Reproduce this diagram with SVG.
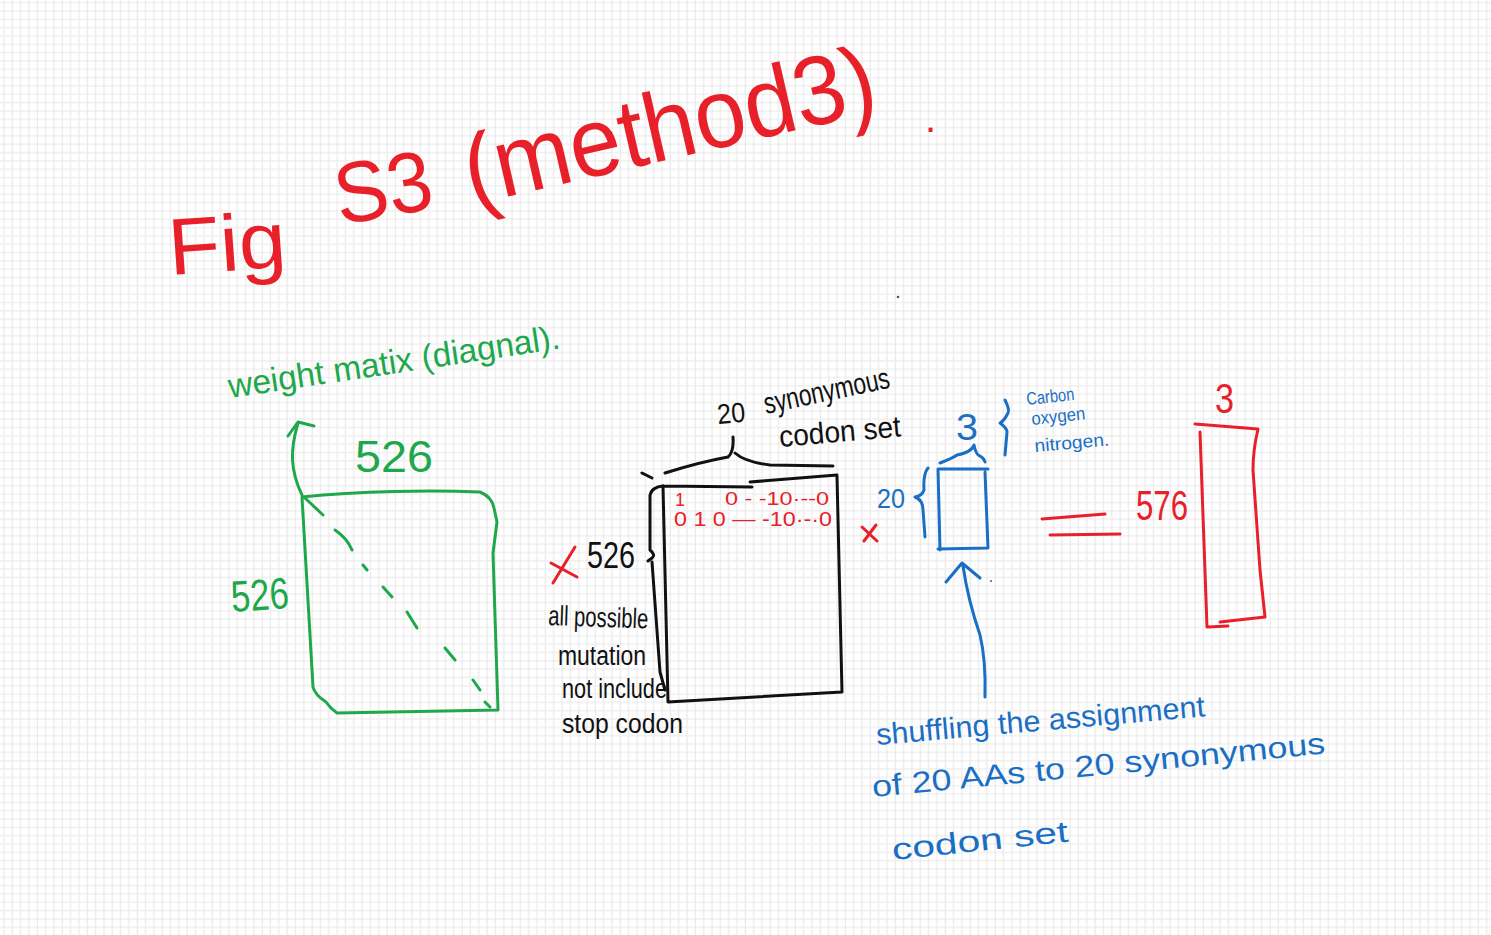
<svg xmlns="http://www.w3.org/2000/svg" width="1491" height="935" viewBox="0 0 1491 935">
<defs>
<pattern id="grid" width="8.33" height="8.33" patternUnits="userSpaceOnUse" x="0" y="0">
<path d="M4 0V8.33M0 2.7H8.33" stroke="#ebebeb" stroke-width="1.3" fill="none"/>
</pattern>
<style>
.t{font-family:"Liberation Sans",Arial,sans-serif}
.red{fill:#e8202a}.grn{fill:#1ea84b}.blk{fill:#111}.blu{fill:#1a6fc4}
.sr{stroke:#e8202a}.sg{stroke:#1ea84b}.sk{stroke:#111}.sb{stroke:#1a6fc4}
.ln{fill:none;stroke-width:3;stroke-linecap:round;stroke-linejoin:round}
</style>
</defs>
<rect width="1491" height="935" fill="#fff"/>
<rect width="1491" height="935" fill="url(#grid)"/>

<g id="title">
<text class="t red" x="170" y="275" font-size="80" transform="rotate(-4 170 275)" textLength="118" lengthAdjust="spacingAndGlyphs">Fig</text>
<text class="t red" x="340" y="225" font-size="86" transform="rotate(-10 340 225)" textLength="98" lengthAdjust="spacingAndGlyphs">S3</text>
<text class="t red" x="472" y="205" font-size="98" transform="rotate(-13 472 205)" textLength="420" lengthAdjust="spacingAndGlyphs">(method3)</text>
<text class="t red" x="925" y="132" font-size="40">.</text>
</g>

<g id="weight-matrix">
<text class="t grn" x="230" y="398" font-size="34" transform="rotate(-8.5 230 398)" textLength="335" lengthAdjust="spacingAndGlyphs">weight matix (diagnal).</text>
<text class="t grn" x="355" y="472" font-size="44" textLength="78" lengthAdjust="spacingAndGlyphs">526</text>
<text class="t grn" x="232" y="612" font-size="44" transform="rotate(-4 232 612)" textLength="58" lengthAdjust="spacingAndGlyphs">526</text>
<path class="ln sg" d="M302,497 C360,491 430,490 480,492 Q492,497 494,508 L497,522 L493,553 L498,710 L337,713 Q330,708 326,702 Q315,695 313,687 L302,497 Z"/>
<path class="ln sg" stroke-width="2" d="M305,498 L323,515 M335,530 Q347,538 352,550 M363,565 L367,570 M383,587 L392,597 M407,612 L417,628 M445,648 L455,660 M473,680 L480,690 M485,702 L490,707"/>
<path class="ln sg" stroke-width="2.5" d="M302,495 C290,470 290,450 298,423 M288,436 L298,422 L314,426"/>
</g>

<g id="mutation-matrix">
<text class="t blk" x="718" y="424" font-size="28" transform="rotate(-5 718 424)" textLength="28" lengthAdjust="spacingAndGlyphs">20</text>
<text class="t blk" x="766" y="414" font-size="30" transform="rotate(-12 766 414)" textLength="128" lengthAdjust="spacingAndGlyphs">synonymous</text>
<text class="t blk" x="780" y="447" font-size="30" transform="rotate(-5 780 447)" textLength="122" lengthAdjust="spacingAndGlyphs">codon set</text>
<path class="ln sk" d="M665,473 Q700,462 728,457 Q734,452 733,437 M735,453 Q745,462 770,465 L833,466"/>
<path class="ln sk" d="M642,473 L652,478"/>
<path class="ln sk" d="M663,486 L752,487 M750,482 L837,475 M837,476 L842,692 L668,702 M663,486 L668,702"/>
<path class="ln sk" d="M663,486 Q652,487 650,495 L650,550 Q656,555 652,558 L648,561 M652,562 L660,672 L665,690"/>
<text class="t red" x="675" y="506" font-size="18">1</text>
<text class="t red" x="725" y="505" font-size="18" textLength="104" lengthAdjust="spacingAndGlyphs">0 - -10·--0</text>
<text class="t red" x="674" y="526" font-size="20" textLength="158" lengthAdjust="spacingAndGlyphs">0 1 0 — -10·-·0</text>
<path class="ln sr" d="M551,563 L577,577 M575,547 L553,583"/>
<text class="t blk" x="587" y="568" font-size="36" textLength="48" lengthAdjust="spacingAndGlyphs">526</text>
<text class="t blk" x="548" y="625" font-size="28" transform="rotate(2 548 625)" textLength="100" lengthAdjust="spacingAndGlyphs">all possible</text>
<text class="t blk" x="558" y="665" font-size="27" textLength="88" lengthAdjust="spacingAndGlyphs">mutation</text>
<text class="t blk" x="562" y="698" font-size="27" textLength="105" lengthAdjust="spacingAndGlyphs">not include</text>
<text class="t blk" x="562" y="733" font-size="27" textLength="121" lengthAdjust="spacingAndGlyphs">stop codon</text>
</g>

<g id="times">
<path class="ln sr" stroke-width="2.5" d="M862,527 L877,541 M876,525 L864,541"/>
</g>

<g id="assignment-matrix">
<text class="t blu" x="877" y="508" font-size="28" textLength="28" lengthAdjust="spacingAndGlyphs">20</text>
<path class="ln sb" d="M928,468 Q923,474 924,490 Q922,496 915,497 Q923,500 923,510 L925,537"/>
<path class="ln sb" d="M938,469 L988,469 M985,472 L988,548 L938,549 M938,469 L940,550"/>
<text class="t blu" x="956" y="440" font-size="36" textLength="22" lengthAdjust="spacingAndGlyphs">3</text>
<path class="ln sb" d="M940,463 Q953,458 957,455 Q972,452 974,445 Q976,455 980,456 Q984,458 985,462"/>
<path class="ln sb" stroke-width="2.5" d="M1005,400 Q1010,410 1008,413 Q1004,421 1000,423 Q1007,428 1007,432 L1005,455"/>
<text class="t blu" x="1027" y="405" font-size="18" transform="rotate(-6 1027 405)" textLength="48" lengthAdjust="spacingAndGlyphs">Carbon</text>
<text class="t blu" x="1032" y="425" font-size="18" transform="rotate(-6 1032 425)" textLength="54" lengthAdjust="spacingAndGlyphs">oxygen</text>
<text class="t blu" x="1035" y="452" font-size="18" transform="rotate(-5 1035 452)" textLength="75" lengthAdjust="spacingAndGlyphs">nitrogen.</text>
</g>

<g id="equals">
<path class="ln sr" d="M1042,519 L1105,514 M1050,535 L1120,534"/>
</g>

<g id="result-matrix">
<text class="t red" x="1136" y="520" font-size="42" textLength="52" lengthAdjust="spacingAndGlyphs">576</text>
<text class="t red" x="1215" y="413" font-size="42" textLength="19" lengthAdjust="spacingAndGlyphs">3</text>
<path class="ln sr" d="M1195,424 L1258,429 Q1253,450 1253,470 L1260,570 L1265,617 L1220,622 M1208,627 L1228,626 M1200,432 L1207,627"/>
</g>

<g id="connectors">
<path class="ln sb" stroke-width="2.5" d="M985,697 Q986,660 980,635 Q968,600 963,566 M946,582 L962,563 L980,578"/>
</g>

<g id="shuffle-note">
<text class="t blu" x="877" y="745" font-size="30" transform="rotate(-5 877 745)" textLength="330" lengthAdjust="spacingAndGlyphs">shuffling the assignment</text>
<text class="t blu" x="873" y="797" font-size="30" transform="rotate(-5.5 873 797)" textLength="455" lengthAdjust="spacingAndGlyphs">of 20 AAs to 20 synonymous</text>
<text class="t blu" x="893" y="860" font-size="30" transform="rotate(-6 893 860)" textLength="177" lengthAdjust="spacingAndGlyphs">codon set</text>
</g>

<g id="marks">
<circle cx="898" cy="297" r="1.3" fill="#555"/>
<circle cx="991" cy="581" r="1" fill="#555"/>
</g>
</svg>
